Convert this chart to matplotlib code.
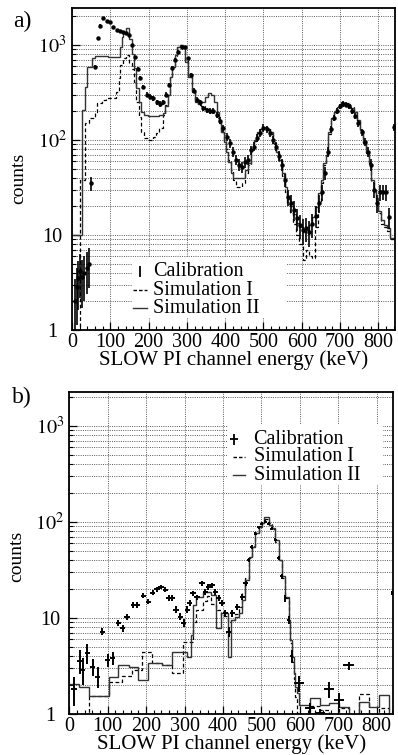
import numpy as np
import matplotlib
matplotlib.use("Agg")
import matplotlib.pyplot as plt
from matplotlib.patches import Rectangle
from matplotlib.ticker import FixedLocator, LogLocator, NullFormatter, MultipleLocator
from matplotlib.lines import Line2D

plt.rcParams['font.family'] = ['Liberation Serif', 'DejaVu Serif']
plt.rcParams['mathtext.fontset'] = 'stix'

# ---------------- panel a) data ----------------
# bin edges (keV) shared by both simulations
edges_a = [0, 22, 27, 33, 39, 44, 52, 60, 66, 78,
           90, 95, 116, 122, 126, 130, 134, 140, 150, 156,
           162, 168, 174, 180, 188, 198, 212, 220, 228, 238,
           244, 250, 256, 262, 268, 274, 282, 290, 296, 304,
           312, 320, 330, 338, 346, 354, 362, 370, 378, 384,
           390, 396, 402, 408, 414, 420, 428, 444, 452, 460,
           468, 476, 484, 492, 500, 508, 516, 524, 532, 540,
           548, 556, 562, 570, 578, 586, 594, 602, 610, 618,
           626, 634, 642, 650, 656, 662, 668, 676, 684, 692,
           702, 714, 726, 736, 744, 752, 760, 768, 776, 782,
           788, 794, 800, 806, 814, 822, 830, 843]
sim2_a = [10, 10, 208, 360, 585, 585, 725, 765, 765, 765,
          765, 740, 740, 740, 950, 1200, 1340, 1510, 1160, 800,
          575, 355, 250, 195, 185, 178, 178, 180, 182, 190,
          230, 300, 460, 590, 780, 960, 1000, 930, 660, 460,
          320, 250, 240, 250, 280, 310, 300, 250, 195, 155,
          120, 95, 75, 58, 45, 40, 40, 40, 48, 57,
          80, 100, 120, 130, 137, 130, 120, 92, 75, 62,
          45, 32, 24, 20, 16.5, 13.5, 12, 10.7, 11.2, 12.7,
          15.5, 19.7, 27.5, 38, 57, 69, 120, 170, 196, 220,
          245, 240, 215, 196, 162, 127, 95, 75, 58, 38,
          30, 24.5, 18, 14.4, 12.7, 11.8, 9.3]
sim1_a = [0, 38, 38, 150, 150, 170, 170, 196, 245, 265,
          275, 275, 320, 450, 610, 610, 720, 780, 640, 560,
          410, 250, 175, 120, 105, 100, 107, 117, 133, 183,
          232, 300, 460, 590, 760, 940, 1000, 950, 700, 470,
          330, 260, 235, 225, 210, 205, 200, 190, 170, 150,
          122, 100, 80, 62, 48, 38, 32, 35, 45, 55,
          78, 98, 118, 130, 135, 132, 115, 90, 72, 58,
          42, 28, 21, 17, 13, 10, 8, 5.5, 7, 6,
          5.7, 12, 22, 35, 55, 70, 115, 165, 195, 222,
          250, 245, 220, 195, 160, 125, 93, 72, 55, 36,
          28, 22, 17, 13, 12, 11, 9]

cal_a_E = [8, 12, 16, 20, 26, 32, 38, 44, 50, 61,
           69, 74, 82, 92, 100, 108, 117, 126, 134, 142,
           150, 156, 165, 172, 178, 186, 195, 204, 212, 222,
           230, 238, 246, 254, 262, 270, 278, 286, 294, 302,
           310, 318, 326, 334, 343, 352, 360, 369, 378, 386,
           395, 404, 412, 420, 428, 436, 444, 452, 460, 468,
           476, 484, 492, 500, 508, 516, 524, 532, 540, 548,
           556, 564, 572, 580, 588, 596, 604, 612, 620, 628,
           636, 644, 652, 660, 668, 676, 684, 692, 700, 708,
           716, 724, 732, 740, 748, 756, 764, 772, 780, 788,
           796, 804, 812, 820, 828, 840]
cal_a_N = [2.0, 2.8, 3.5, 4.2, 3.6, 4.0, 4.5, 5.0, 35, 590,
           1190, 1600, 1920, 1800, 1750, 1540, 1450, 1400, 1370, 1320,
           1280, 1000, 740, 560, 450, 360, 300, 285, 275, 250,
           240, 250, 300, 380, 570, 700, 850, 960, 950, 720,
           480, 330, 265, 250, 215, 205, 200, 200, 185, 160,
           133, 107, 92, 75, 62, 55, 52, 58, 62, 78,
           85, 105, 118, 134, 130, 118, 100, 85, 68, 55,
           38, 25, 21.7, 18.3, 15, 12.7, 11.2, 11.8, 10.7, 13,
           16, 21.7, 28, 45, 75, 130, 170, 200, 225, 240,
           235, 225, 200, 180, 150, 120, 95, 75, 55, 30,
           21.7, 28, 28.4, 28, 15.5, 137]

# ---------------- panel b) data ----------------
edges_b = [0, 26, 52, 78, 104, 126, 138, 156, 164, 178,
           190, 204, 216, 242, 268, 295, 307, 318, 323, 330,
           347, 358, 369, 382, 395, 413, 421, 432, 441, 449,
           458, 467, 475, 484, 493, 501, 506, 519, 527, 536,
           545, 553, 562, 571, 575, 579, 584, 588, 592, 597,
           627, 653, 675, 701, 727, 753, 779, 805, 831, 845]
sim2_b = [2.05, 1.93, 1.55, 1.55, 2.45, 3.2, 3.2, 3.1, 3.1, 2.26,
          2.26, 3.4, 3.4, 3.2, 4.4, 4.4, 3.95, 6.6, 13.6, 16.6,
          18.8, 18.8, 17.3, 7.8, 11.3, 3.95, 9.5, 10.3, 11.2, 15.4,
          24.8, 43, 55, 76, 89, 97, 113, 93, 86, 65,
          40, 27, 16.6, 9.5, 5.9, 3.95, 2.67, 1.93, 1.65, 1.24,
          1.47, 1.24, 1.3, 1.19, 0, 1.34, 1.19, 1.58, 0]
sim1_b = [0, 0, 1.55, 1.55, 2.17, 2.17, 2.5, 2.5, 2.87, 2.87,
          4.45, 4.45, 3.37, 3.2, 2.67, 5.65, 5.65, 5.65, 9, 12,
          15, 17, 14, 12, 10.5, 9, 9.5, 11, 13, 18,
          26, 42, 56, 78, 90, 98, 108, 96, 84, 62,
          40, 26, 16, 9, 5.5, 3.5, 2.3, 1.5, 0, 0,
          1.2, 1.1, 0, 1.15, 0, 1.6, 0, 1.15, 0]

cal_b_E = [12, 28, 35, 47, 61, 74, 86, 100, 113, 128,
           139, 150, 167, 177, 193, 206, 217, 228, 239, 250,
           259, 268, 278, 289, 298, 307, 313, 322, 332, 345,
           354, 362, 371, 380, 389, 397, 406, 415, 424, 437,
           450, 459, 467, 475, 484, 493, 501, 510, 519, 527,
           536, 545, 553, 562, 571, 579, 598, 627, 653, 676,
           701, 727, 840]
cal_b_N = [1.8, 3.6, 2.9, 4.3, 3.1, 2.45, 7.2, 3.65, 3.8, 8.9,
           7.8, 10.3, 13.6, 13.6, 17, 14.8, 18.2, 20, 21, 19.6,
           16, 16, 12.2, 10.3, 8.9, 12.2, 14.3, 18, 16.3, 23,
           18.7, 21, 22, 18.7, 16, 14.3, 11.2, 7.2, 11.2, 13,
           16.6, 23, 40, 55, 75, 88, 95, 100, 95, 85,
           65, 42, 27, 16, 9.5, 4.0, 2.1, 1.15, 1.02, 1.8,
           1.4, 3.2, 18.2]
cal_b_dN = [0.6, 1.0, 0.9, 1.0, 0.6, 0.6, 0.6, 0.6, 0.6, 0.7,
            0.7, 0.8, 0.9, 0.9, 1.0, 1.0, 1.1, 1.2, 1.2, 1.2,
            1.1, 1.1, 1.0, 0.9, 0.9, 1.0, 1.0, 1.1, 1.1, 1.3,
            1.2, 1.3, 1.3, 1.2, 1.1, 1.0, 0.9, 0.8, 0.9, 1.0,
            1.1, 1.3, 2.0, 2.5, 3.0, 3.0, 3.5, 3.5, 3.5, 3.0,
            2.5, 2.0, 1.6, 1.2, 0.9, 0.6, 0.4, 0.15, 0.12, 0.35,
            0.25, 0.3, 0.8]
cal_b_dE = [7] * 42 + [4] * 14 + [13, 13, 13, 13, 13, 14, 2]

FLOOR = 0.1  # empty bins drawn below the axis


def style_axes(ax, ymax):
    ax.set_yscale('log')
    ax.set_xlim(0, 843)
    ax.set_ylim(1, ymax)
    ax.xaxis.set_major_locator(MultipleLocator(100))
    ax.xaxis.set_minor_locator(MultipleLocator(20))
    ax.yaxis.set_major_locator(FixedLocator([1, 10, 100, 1000]))
    ax.set_yticklabels(['1', '10', r'$10^{2}$', r'$10^{3}$'])
    ax.yaxis.set_minor_locator(LogLocator(base=10, subs=np.arange(2, 10)))
    ax.yaxis.set_minor_formatter(NullFormatter())
    ax.tick_params(which='major', direction='in', length=6, width=0.9,
                   labelsize=14.5)
    ax.tick_params(which='minor', direction='in', length=3, width=0.8)
    ax.tick_params(axis='y', which='major', pad=14)
    ax.tick_params(axis='x', which='major', pad=2)
    for lab in ax.get_yticklabels():
        lab.set_horizontalalignment('center')
    for s in ax.spines.values():
        s.set_linewidth(1.3)
    ax.grid(which='major', axis='x', linestyle=(0, (1, 1.3)), color='0.35', lw=0.7)
    ax.grid(which='both', axis='y', linestyle=(0, (1, 1.3)), color='0.35', lw=0.7)
    ax.set_xlabel('SLOW PI channel energy (keV)', fontsize=15, labelpad=-1)
    ax.set_ylabel('counts', fontsize=14)


def legend_block(ax, box, xm, xl0, xl1, xt, ys, cross):
    ax.add_patch(Rectangle((box[0], box[1]), box[2], box[3], transform=ax.transAxes,
                           facecolor='white', edgecolor='none', zorder=1.8))
    ax.errorbar([xm], [ys[0]], yerr=[0.018], xerr=[0.012] if cross else None,
                fmt='none', ecolor='k', elinewidth=1.3, transform=ax.transAxes,
                zorder=3, clip_on=False)
    ax.add_line(Line2D([xl0, xl1], [ys[1], ys[1]], transform=ax.transAxes,
                       color='k', lw=1, ls=(0, (2.5, 1.5)), zorder=3))
    ax.add_line(Line2D([xl0, xl1], [ys[2], ys[2]], transform=ax.transAxes,
                       color='0.2', lw=1, zorder=3))
    for y, t in zip(ys, ['Calibration', 'Simulation I', 'Simulation II']):
        ax.text(xt, y, t, transform=ax.transAxes, fontsize=14.5, va='center',
                ha='left', zorder=3)


fig = plt.figure(figsize=(3.98, 7.55), dpi=100)
ax_a = fig.add_axes([0.181, 0.563, 0.811, 0.4265])
ax_b = fig.add_axes([0.174, 0.0543, 0.814, 0.4265])

# panel a
ax_a.stairs(np.maximum(sim1_a, FLOOR), edges_a, baseline=None, color='k',
            lw=0.9, ls=(0, (3, 2)), zorder=2)
ax_a.stairs(np.maximum(sim2_a, FLOOR), edges_a, baseline=None, color='0.2',
            lw=1.0, zorder=2.1)
cal_a_N = np.array(cal_a_N)
ax_a.errorbar(cal_a_E, cal_a_N, yerr=np.sqrt(cal_a_N), fmt='o', ms=2.2,
              color='k', ecolor='k', elinewidth=1.2, capsize=0, zorder=3)
style_axes(ax_a, 2450)
ax_a.yaxis.set_label_coords(-0.14, 0.47)
legend_block(ax_a, (0.186, 0.037, 0.48, 0.19), 0.211, 0.19, 0.233, 0.25,
             [0.182, 0.124, 0.068], cross=False)

# panel b
ax_b.stairs(np.maximum(sim1_b, FLOOR), edges_b, baseline=None, color='k',
            lw=0.9, ls=(0, (3, 2)), zorder=2)
ax_b.stairs(np.maximum(sim2_b, FLOOR), edges_b, baseline=None, color='0.2',
            lw=1.0, zorder=2.1)
ax_b.errorbar(cal_b_E, cal_b_N, yerr=cal_b_dN, xerr=cal_b_dE, fmt='none',
              ecolor='k', elinewidth=1.4, capsize=0, zorder=3)
style_axes(ax_b, 2240)
ax_b.yaxis.set_label_coords(-0.135, 0.49)
legend_block(ax_b, (0.491, 0.711, 0.478, 0.187), 0.509, 0.506, 0.543, 0.569,
             [0.853, 0.799, 0.742], cross=True)

fig.text(0.055, 0.971, 'a)', fontsize=17, ha='center', va='center')
fig.text(0.055, 0.474, 'b)', fontsize=17, ha='center', va='center')

fig.savefig('out.png', dpi=100)
